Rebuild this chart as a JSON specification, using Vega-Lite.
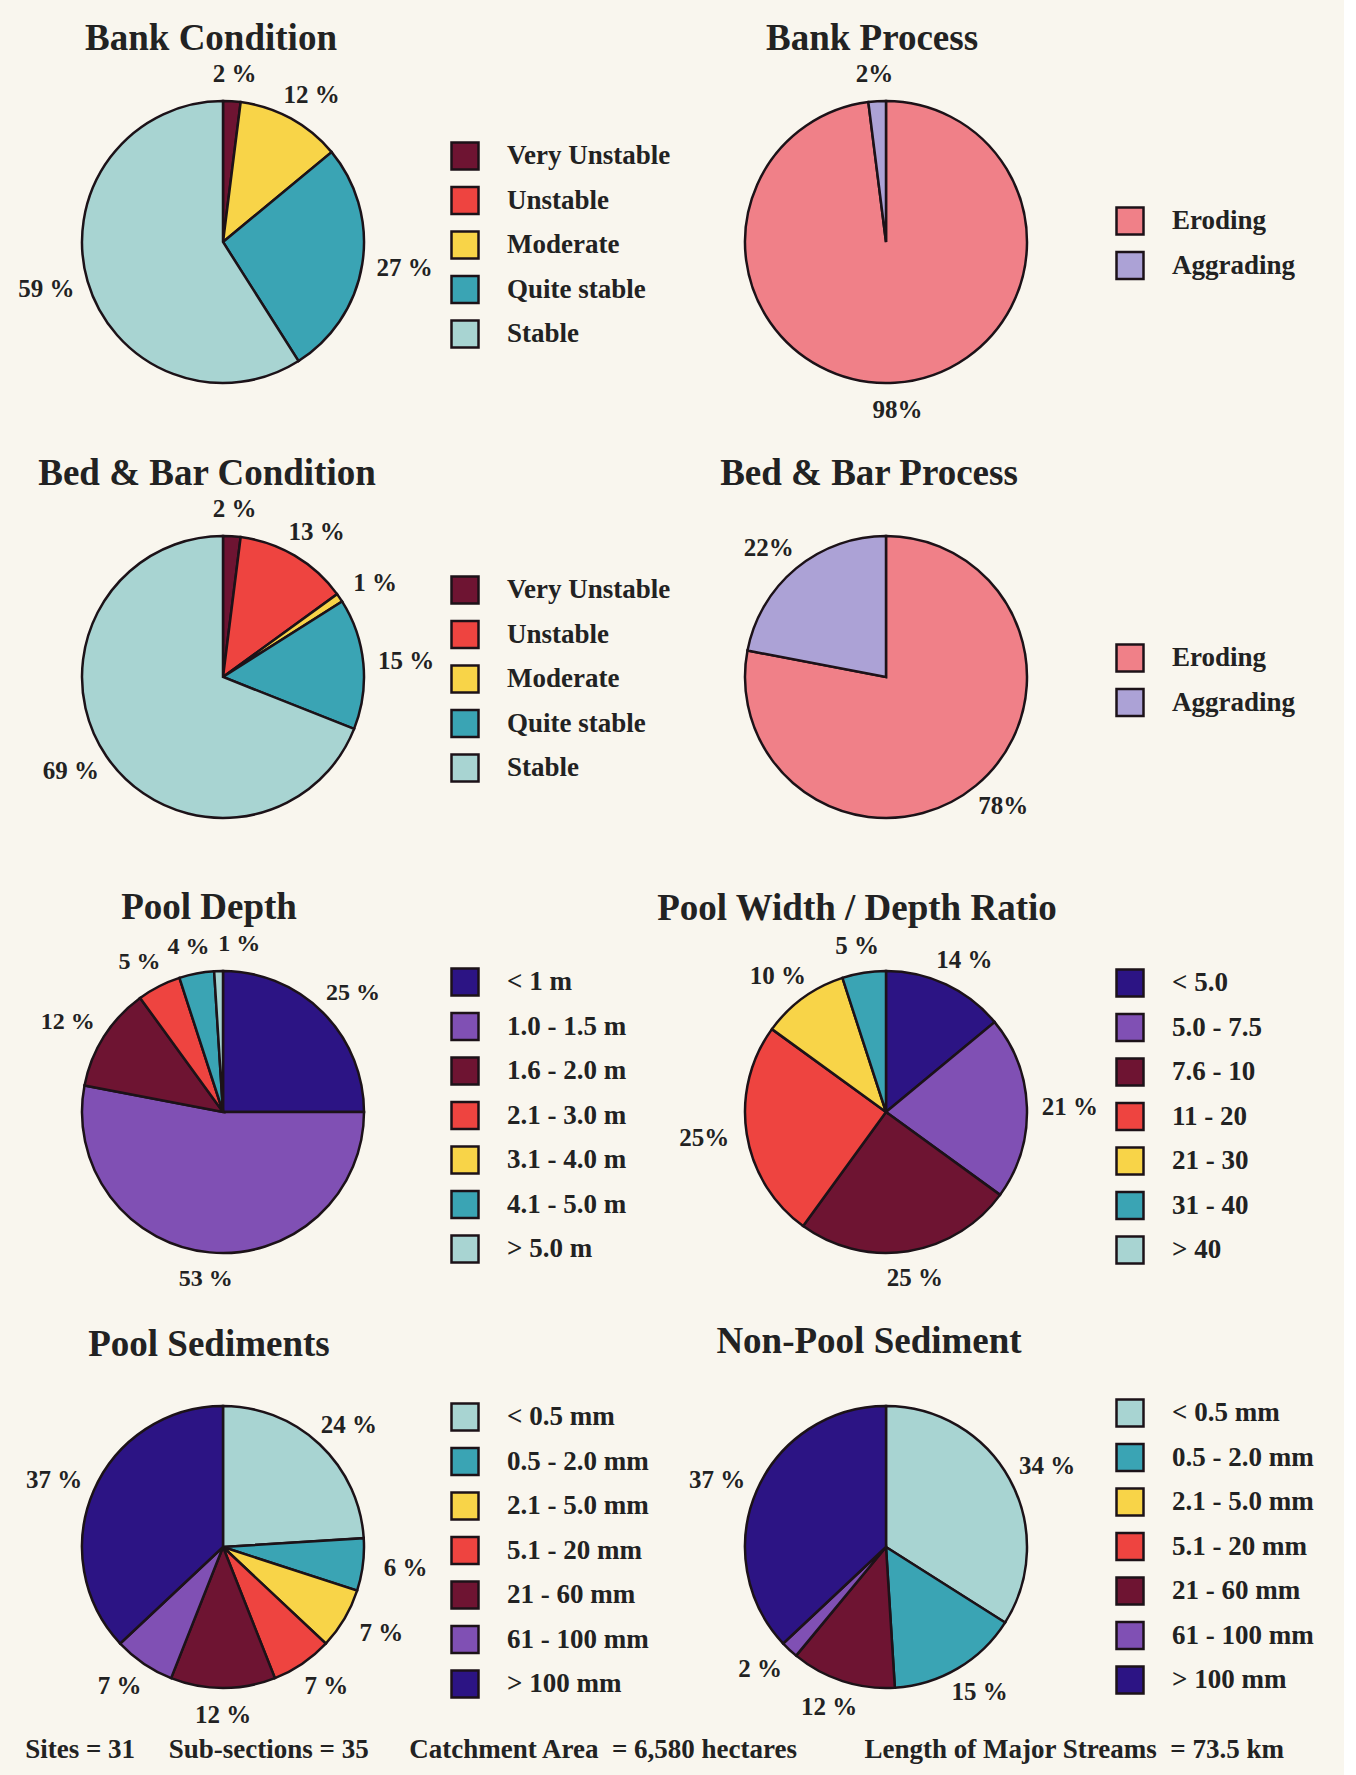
{
  "$schema": "https://vega.github.io/schema/vega-lite/v6.json",
  "background": "#f9f6ee",
  "padding": {"left": 18, "top": 20, "right": 30, "bottom": 16},
  "config": {
    "view": {"stroke": null},
    "font": "Liberation Serif",
    "title": {"font": "Liberation Serif", "fontSize": 37, "fontWeight": "bold", "color": "#222222", "baseline": "alphabetic", "frame": "group", "anchor": "middle"},
    "legend": {"symbolType": "square", "symbolSize": 729, "symbolStrokeColor": "#1c1218", "symbolStrokeWidth": 2.5, "symbolOpacity": 1, "labelFont": "Liberation Serif", "labelFontSize": 27, "labelFontWeight": "bold", "labelColor": "#222222", "labelOffset": 27, "labelLimit": 400, "rowPadding": 6.5, "padding": 0}
  },
  "title": {"text": "Sites = 31\u00a0\u00a0\u00a0\u00a0\u00a0Sub-sections = 35\u00a0\u00a0\u00a0\u00a0\u00a0\u00a0Catchment Area\u00a0 = 6,580 hectares\u00a0\u00a0\u00a0\u00a0\u00a0\u00a0\u00a0\u00a0\u00a0\u00a0Length of Major Streams\u00a0 = 73.5 km", "orient": "bottom", "anchor": "start", "frame": "bounds", "baseline": "top", "fontSize": 27, "offset": 9, "dx": 7},
  "columns": 2,
  "spacing": {"row": 151, "column": 379},
  "bounds": "flush",
  "resolve": {"scale": {"color": "independent", "theta": "independent"}, "legend": {"color": "independent"}},
  "concat": [
    {
      "title": {"text": "Bank Condition", "offset": 4, "dx": -12}, "width": 284, "height": 284,
      "data": {"values": [
        {"cat": "Very Unstable", "k": 1, "pct": 2, "label": "2 %"},
        {"cat": "Unstable", "k": 2, "pct": 0, "label": ""},
        {"cat": "Moderate", "k": 3, "pct": 12, "label": "12 %"},
        {"cat": "Quite stable", "k": 4, "pct": 27, "label": "27 %"},
        {"cat": "Stable", "k": 5, "pct": 59, "label": "59 %"}
      ]},
      "transform": [{"filter": "datum.pct > 0"}],
      "encoding": {
        "theta": {"field": "pct", "type": "quantitative", "stack": true},
        "order": {"field": "k", "type": "quantitative"},
        "color": {"field": "cat", "type": "nominal", "scale": {"domain": ["Very Unstable", "Unstable", "Moderate", "Quite stable", "Stable"], "range": ["#6e1432", "#ee4440", "#f8d448", "#3aa4b4", "#a8d4d2"]}, "legend": {"title": null, "orient": "none", "legendX": 369, "legendY": 41}}
      },
      "layer": [
        {"mark": {"type": "arc", "outerRadius": 141, "stroke": "#1c1218", "strokeWidth": 2.5}},
        {"mark": {"type": "text", "radius": 176, "dx": {"expr": "8*sin(PI*(datum.pct_start+datum.pct_end)/100)"}, "dy": {"expr": "8*cos(PI*(datum.pct_start+datum.pct_end)/100)"}, "font": "Liberation Serif", "fontSize": 25, "fontWeight": "bold", "align": "center", "baseline": "middle"}, "encoding": {"text": {"field": "label"}, "color": {"value": "#222222"}}}
      ]
    },
    {
      "title": {"text": "Bank Process", "offset": 4, "dx": -14}, "width": 284, "height": 284,
      "data": {"values": [
        {"cat": "Eroding", "k": 1, "pct": 98, "label": "98%"},
        {"cat": "Aggrading", "k": 2, "pct": 2, "label": "2%"}
      ]},
      "transform": [{"filter": "datum.pct > 0"}],
      "encoding": {
        "theta": {"field": "pct", "type": "quantitative", "stack": true},
        "order": {"field": "k", "type": "quantitative"},
        "color": {"field": "cat", "type": "nominal", "scale": {"domain": ["Eroding", "Aggrading"], "range": ["#f08088", "#aca2d6"]}, "legend": {"title": null, "orient": "none", "legendX": 371, "legendY": 106}}
      },
      "layer": [
        {"mark": {"type": "arc", "outerRadius": 141, "stroke": "#1c1218", "strokeWidth": 2.5}},
        {"mark": {"type": "text", "radius": 176, "dx": {"expr": "8*sin(PI*(datum.pct_start+datum.pct_end)/100)"}, "dy": {"expr": "8*cos(PI*(datum.pct_start+datum.pct_end)/100)"}, "font": "Liberation Serif", "fontSize": 25, "fontWeight": "bold", "align": "center", "baseline": "middle"}, "encoding": {"text": {"field": "label"}, "color": {"value": "#222222"}}}
      ]
    },
    {
      "title": {"text": "Bed & Bar Condition", "offset": 4, "dx": -16}, "width": 284, "height": 284,
      "data": {"values": [
        {"cat": "Very Unstable", "k": 1, "pct": 2, "label": "2 %"},
        {"cat": "Unstable", "k": 2, "pct": 13, "label": "13 %"},
        {"cat": "Moderate", "k": 3, "pct": 1, "label": "1 %"},
        {"cat": "Quite stable", "k": 4, "pct": 15, "label": "15 %"},
        {"cat": "Stable", "k": 5, "pct": 69, "label": "69 %"}
      ]},
      "transform": [{"filter": "datum.pct > 0"}],
      "encoding": {
        "theta": {"field": "pct", "type": "quantitative", "stack": true},
        "order": {"field": "k", "type": "quantitative"},
        "color": {"field": "cat", "type": "nominal", "scale": {"domain": ["Very Unstable", "Unstable", "Moderate", "Quite stable", "Stable"], "range": ["#6e1432", "#ee4440", "#f8d448", "#3aa4b4", "#a8d4d2"]}, "legend": {"title": null, "orient": "none", "legendX": 369, "legendY": 40}}
      },
      "layer": [
        {"mark": {"type": "arc", "outerRadius": 141, "stroke": "#1c1218", "strokeWidth": 2.5}},
        {"mark": {"type": "text", "radius": 176, "dx": {"expr": "8*sin(PI*(datum.pct_start+datum.pct_end)/100)"}, "dy": {"expr": "8*cos(PI*(datum.pct_start+datum.pct_end)/100)"}, "font": "Liberation Serif", "fontSize": 25, "fontWeight": "bold", "align": "center", "baseline": "middle"}, "encoding": {"text": {"field": "label"}, "color": {"value": "#222222"}}}
      ]
    },
    {
      "title": {"text": "Bed & Bar Process", "offset": 38, "dx": -17}, "width": 284, "height": 284,
      "data": {"values": [
        {"cat": "Eroding", "k": 1, "pct": 78, "label": "78%"},
        {"cat": "Aggrading", "k": 2, "pct": 22, "label": "22%"}
      ]},
      "transform": [{"filter": "datum.pct > 0"}],
      "encoding": {
        "theta": {"field": "pct", "type": "quantitative", "stack": true},
        "order": {"field": "k", "type": "quantitative"},
        "color": {"field": "cat", "type": "nominal", "scale": {"domain": ["Eroding", "Aggrading"], "range": ["#f08088", "#aca2d6"]}, "legend": {"title": null, "orient": "none", "legendX": 371, "legendY": 108}}
      },
      "layer": [
        {"mark": {"type": "arc", "outerRadius": 141, "stroke": "#1c1218", "strokeWidth": 2.5}},
        {"mark": {"type": "text", "radius": 176, "dx": {"expr": "8*sin(PI*(datum.pct_start+datum.pct_end)/100)"}, "dy": {"expr": "8*cos(PI*(datum.pct_start+datum.pct_end)/100)"}, "font": "Liberation Serif", "fontSize": 25, "fontWeight": "bold", "align": "center", "baseline": "middle"}, "encoding": {"text": {"field": "label"}, "color": {"value": "#222222"}}}
      ]
    },
    {
      "title": {"text": "Pool Depth", "offset": 5, "dx": -14}, "width": 284, "height": 284,
      "data": {"values": [
        {"cat": "< 1 m", "k": 1, "pct": 25, "label": "25 %"},
        {"cat": "1.0 - 1.5 m", "k": 2, "pct": 53, "label": "53 %"},
        {"cat": "1.6 - 2.0 m", "k": 3, "pct": 12, "label": "12 %"},
        {"cat": "2.1 - 3.0 m", "k": 4, "pct": 5, "label": "5 %"},
        {"cat": "3.1 - 4.0 m", "k": 5, "pct": 0, "label": ""},
        {"cat": "4.1 - 5.0 m", "k": 6, "pct": 4, "label": "4 %"},
        {"cat": "> 5.0 m", "k": 7, "pct": 1, "label": "1 %"}
      ]},
      "transform": [{"filter": "datum.pct > 0"}],
      "encoding": {
        "theta": {"field": "pct", "type": "quantitative", "stack": true},
        "order": {"field": "k", "type": "quantitative"},
        "color": {"field": "cat", "type": "nominal", "scale": {"domain": ["< 1 m", "1.0 - 1.5 m", "1.6 - 2.0 m", "2.1 - 3.0 m", "3.1 - 4.0 m", "4.1 - 5.0 m", "> 5.0 m"], "range": ["#2c1484", "#8050b4", "#6e1432", "#ee4440", "#f8d448", "#3aa4b4", "#a8d4d2"]}, "legend": {"title": null, "orient": "none", "legendX": 369, "legendY": -3}}
      },
      "layer": [
        {"mark": {"type": "arc", "outerRadius": 141, "stroke": "#1c1218", "strokeWidth": 2.5}},
        {"mark": {"type": "text", "radius": 176, "dx": {"expr": "8*sin(PI*(datum.pct_start+datum.pct_end)/100) + (datum.pct < 2 ? 22 : 0)"}, "dy": {"expr": "8*cos(PI*(datum.pct_start+datum.pct_end)/100)"}, "font": "Liberation Serif", "fontSize": 24, "fontWeight": "bold", "align": "center", "baseline": "middle"}, "encoding": {"text": {"field": "label"}, "color": {"value": "#222222"}}}
      ]
    },
    {
      "title": {"text": "Pool Width / Depth Ratio", "offset": 6.5, "dx": -29}, "width": 284, "height": 284,
      "data": {"values": [
        {"cat": "< 5.0", "k": 1, "pct": 14, "label": "14 %"},
        {"cat": "5.0 - 7.5", "k": 2, "pct": 21, "label": "21 %"},
        {"cat": "7.6 - 10", "k": 3, "pct": 25, "label": "25 %"},
        {"cat": "11 - 20", "k": 4, "pct": 25, "label": "25%"},
        {"cat": "21 - 30", "k": 5, "pct": 10, "label": "10 %"},
        {"cat": "31 - 40", "k": 6, "pct": 5, "label": "5 %"},
        {"cat": "> 40", "k": 7, "pct": 0, "label": ""}
      ]},
      "transform": [{"filter": "datum.pct > 0"}],
      "encoding": {
        "theta": {"field": "pct", "type": "quantitative", "stack": true},
        "order": {"field": "k", "type": "quantitative"},
        "color": {"field": "cat", "type": "nominal", "scale": {"domain": ["< 5.0", "5.0 - 7.5", "7.6 - 10", "11 - 20", "21 - 30", "31 - 40", "> 40"], "range": ["#2c1484", "#8050b4", "#6e1432", "#ee4440", "#f8d448", "#3aa4b4", "#a8d4d2"]}, "legend": {"title": null, "orient": "none", "legendX": 371, "legendY": -2}}
      },
      "layer": [
        {"mark": {"type": "arc", "outerRadius": 141, "stroke": "#1c1218", "strokeWidth": 2.5}},
        {"mark": {"type": "text", "radius": 176, "dx": {"expr": "8*sin(PI*(datum.pct_start+datum.pct_end)/100)"}, "dy": {"expr": "8*cos(PI*(datum.pct_start+datum.pct_end)/100)"}, "font": "Liberation Serif", "fontSize": 25, "fontWeight": "bold", "align": "center", "baseline": "middle"}, "encoding": {"text": {"field": "label"}, "color": {"value": "#222222"}}}
      ]
    },
    {
      "title": {"text": "Pool Sediments", "offset": 37, "dx": -14}, "width": 284, "height": 284,
      "data": {"values": [
        {"cat": "< 0.5 mm", "k": 1, "pct": 24, "label": "24 %"},
        {"cat": "0.5 - 2.0 mm", "k": 2, "pct": 6, "label": "6 %"},
        {"cat": "2.1 - 5.0 mm", "k": 3, "pct": 7, "label": "7 %"},
        {"cat": "5.1 - 20 mm", "k": 4, "pct": 7, "label": "7 %"},
        {"cat": "21 - 60 mm", "k": 5, "pct": 12, "label": "12 %"},
        {"cat": "61 - 100 mm", "k": 6, "pct": 7, "label": "7 %"},
        {"cat": "> 100 mm", "k": 7, "pct": 37, "label": "37 %"}
      ]},
      "transform": [{"filter": "datum.pct > 0"}],
      "encoding": {
        "theta": {"field": "pct", "type": "quantitative", "stack": true},
        "order": {"field": "k", "type": "quantitative"},
        "color": {"field": "cat", "type": "nominal", "scale": {"domain": ["< 0.5 mm", "0.5 - 2.0 mm", "2.1 - 5.0 mm", "5.1 - 20 mm", "21 - 60 mm", "61 - 100 mm", "> 100 mm"], "range": ["#a8d4d2", "#3aa4b4", "#f8d448", "#ee4440", "#6e1432", "#8050b4", "#2c1484"]}, "legend": {"title": null, "orient": "none", "legendX": 369, "legendY": -3}}
      },
      "layer": [
        {"mark": {"type": "arc", "outerRadius": 141, "stroke": "#1c1218", "strokeWidth": 2.5}},
        {"mark": {"type": "text", "radius": 176, "dx": {"expr": "8*sin(PI*(datum.pct_start+datum.pct_end)/100)"}, "dy": {"expr": "8*cos(PI*(datum.pct_start+datum.pct_end)/100)"}, "font": "Liberation Serif", "fontSize": 25, "fontWeight": "bold", "align": "center", "baseline": "middle"}, "encoding": {"text": {"field": "label"}, "color": {"value": "#222222"}}}
      ]
    },
    {
      "title": {"text": "Non-Pool Sediment", "offset": 37, "dx": -17}, "width": 284, "height": 284,
      "data": {"values": [
        {"cat": "< 0.5 mm", "k": 1, "pct": 34, "label": "34 %"},
        {"cat": "0.5 - 2.0 mm", "k": 2, "pct": 15, "label": "15 %"},
        {"cat": "2.1 - 5.0 mm", "k": 3, "pct": 0, "label": ""},
        {"cat": "5.1 - 20 mm", "k": 4, "pct": 0, "label": ""},
        {"cat": "21 - 60 mm", "k": 5, "pct": 12, "label": "12 %"},
        {"cat": "61 - 100 mm", "k": 6, "pct": 2, "label": "2 %"},
        {"cat": "> 100 mm", "k": 7, "pct": 37, "label": "37 %"}
      ]},
      "transform": [{"filter": "datum.pct > 0"}],
      "encoding": {
        "theta": {"field": "pct", "type": "quantitative", "stack": true},
        "order": {"field": "k", "type": "quantitative"},
        "color": {"field": "cat", "type": "nominal", "scale": {"domain": ["< 0.5 mm", "0.5 - 2.0 mm", "2.1 - 5.0 mm", "5.1 - 20 mm", "21 - 60 mm", "61 - 100 mm", "> 100 mm"], "range": ["#a8d4d2", "#3aa4b4", "#f8d448", "#ee4440", "#6e1432", "#8050b4", "#2c1484"]}, "legend": {"title": null, "orient": "none", "legendX": 371, "legendY": -7}}
      },
      "layer": [
        {"mark": {"type": "arc", "outerRadius": 141, "stroke": "#1c1218", "strokeWidth": 2.5}},
        {"mark": {"type": "text", "radius": 176, "dx": {"expr": "8*sin(PI*(datum.pct_start+datum.pct_end)/100)"}, "dy": {"expr": "8*cos(PI*(datum.pct_start+datum.pct_end)/100)"}, "font": "Liberation Serif", "fontSize": 25, "fontWeight": "bold", "align": "center", "baseline": "middle"}, "encoding": {"text": {"field": "label"}, "color": {"value": "#222222"}}}
      ]
    }
  ]
}
